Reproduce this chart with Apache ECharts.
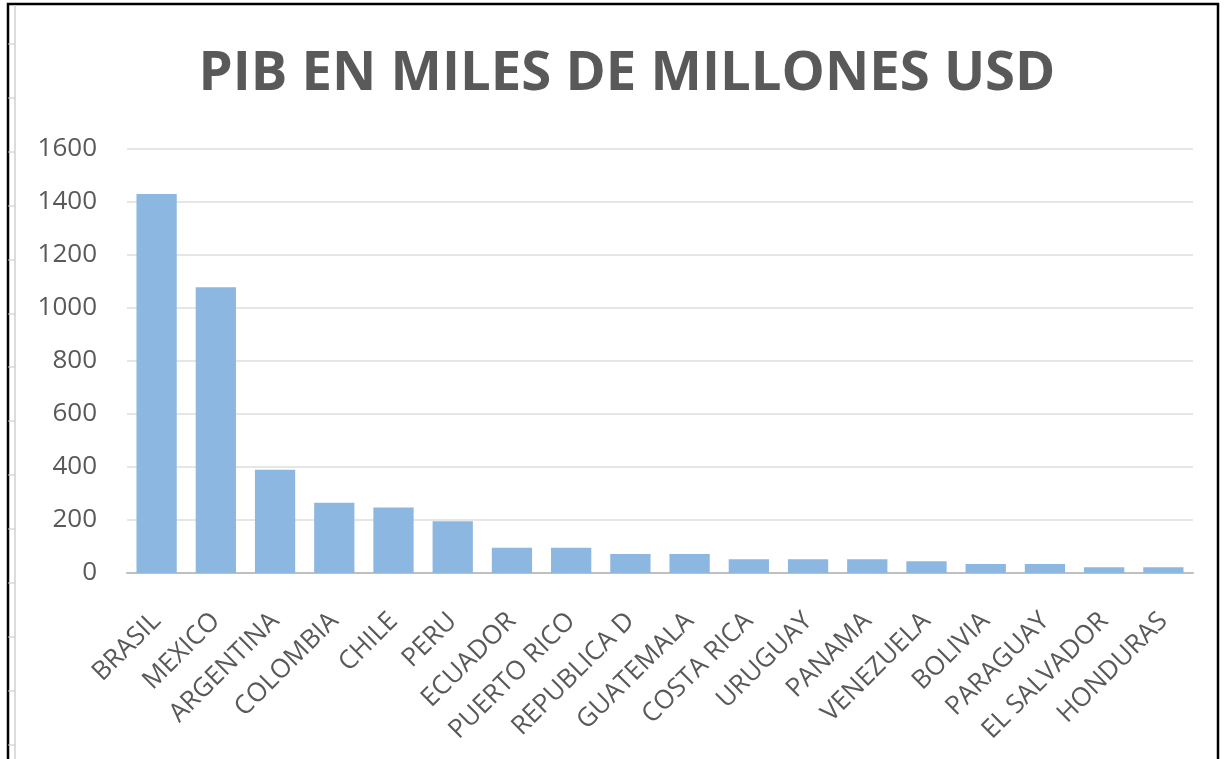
<!DOCTYPE html>
<html>
<head>
<meta charset="utf-8">
<script src="https://cdn.jsdelivr.net/npm/echarts@6/dist/echarts.min.js"></script>
<style>
html,body{margin:0;padding:0;background:#fff;}
#chart{width:1224px;height:759px;}
</style>
</head>
<body>
<div id="chart"></div>
<script>
const titleText = 'PIB EN MILES DE MILLONES USD';
const categories = ['BRASIL','MEXICO','ARGENTINA','COLOMBIA','CHILE','PERU','ECUADOR','PUERTO RICO','REPUBLICA D','GUATEMALA','COSTA RICA','URUGUAY','PANAMA','VENEZUELA','BOLIVIA','PARAGUAY','EL SALVADOR','HONDURAS'];
const pib = [1430,1078,390,265,247,195,95,95,72,72,52,52,52,44,34,34,22,22];
const yTicks = {min:0, max:1600, interval:200};

const chart = echarts.init(document.getElementById('chart'));
const txt = '#595959';
const sideTicks = [];
for (let y = 44; y < 759; y += 53.9) {
  sideTicks.push({type:'line', silent:true, shape:{x1:8, y1:Math.round(y), x2:15, y2:Math.round(y)}, style:{stroke:'#c8c8c8', lineWidth:1}});
}
chart.setOption({
  animation:false,
  backgroundColor:'#ffffff',
  title:{
    text:titleText, left:622, textAlign:'center', top:42,
    textStyle:{fontFamily:'Open Sans', fontWeight:'bold', fontSize:54.5, color:txt}
  },
  grid:{left:127, right:31, top:149, bottom:186, containLabel:false},
  xAxis:{
    type:'category', data:categories,
    axisLine:{lineStyle:{color:'#bfbfbf', width:2}},
    axisTick:{show:false},
    axisLabel:{rotate:45, interval:0, margin:44, color:txt, fontFamily:'Open Sans', fontSize:26}
  },
  yAxis:{
    type:'value', min:yTicks.min, max:yTicks.max, interval:yTicks.interval,
    axisLine:{show:false}, axisTick:{show:false},
    axisLabel:{color:txt, fontFamily:'Open Sans', fontSize:26, margin:30, formatter:function(v){return String(v);}},
    splitLine:{lineStyle:{color:'#e6e6e6', width:2}}
  },
  series:[{
    type:'bar', data:pib, barCategoryGap:'32%',
    itemStyle:{color:'#8cb7e1'}
  }],
  graphic:[
    {type:'rect', silent:true, shape:{x:8, y:4, width:1210, height:800}, style:{fill:'none', stroke:'#000', lineWidth:2.5}},
    {type:'line', silent:true, shape:{x1:15, y1:5, x2:15, y2:759}, style:{stroke:'#d0d0d0', lineWidth:1.5}}
  ].concat(sideTicks)
});
</script>
</body>
</html>
